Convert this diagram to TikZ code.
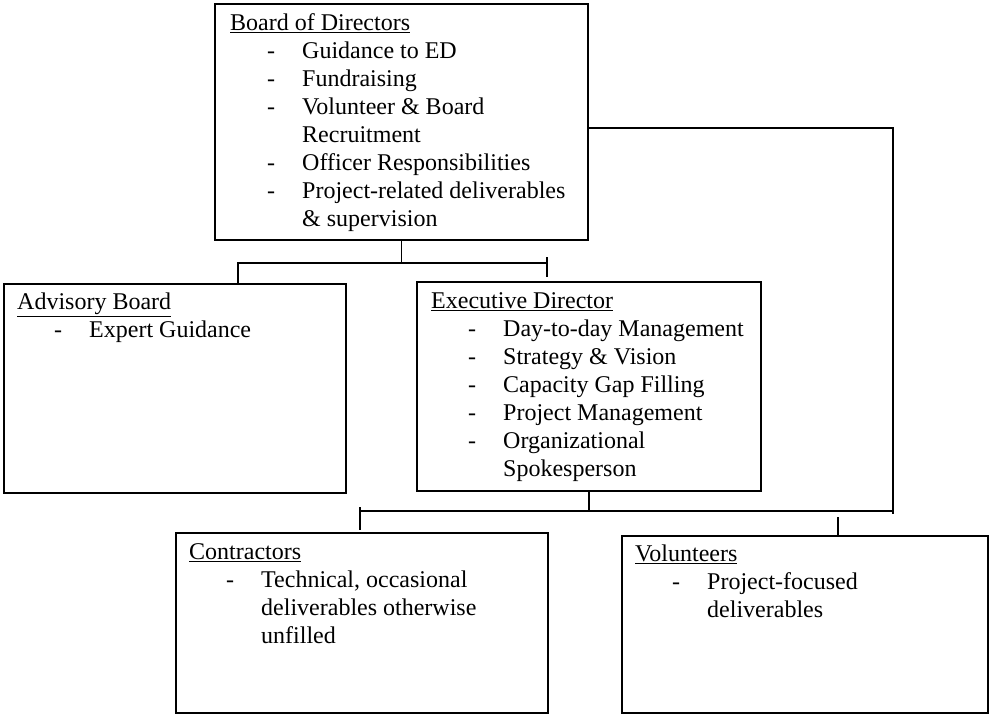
\documentclass[tikz,border=0pt]{standalone}
\usepackage{fontspec}
\setmainfont{Liberation Serif}
\usepackage{tikz}

\newcommand{\dashitem}[1]{\hspace*{37pt}\makebox[35pt][l]{-}#1}
\newcommand{\moreline}[1]{\hspace*{72pt}#1}

\tikzset{
	box/.style={draw, line width=1.6pt, anchor=north west, inner sep=0pt},
	txt/.style={anchor=north west, align=left, inner sep=0pt, font=\fontsize{24}{28}\selectfont},
	conn/.style={line width=1.6pt}
}

\begin{document}
\begin{tikzpicture}[x=1pt, y=-1pt]
				\useasboundingbox (0,0) rectangle (991,715);
				% Boxes
				\node[box, minimum width=373pt, minimum height=236pt] (board) at (214,3) {};
				\node[box, minimum width=342pt, minimum height=209pt] (adv) at (3,283) {};
				\node[box, minimum width=344pt, minimum height=209pt] (ed) at (416,281) {};
				\node[box, minimum width=372pt, minimum height=180pt] (con) at (175,532) {};
				\node[box, minimum width=366pt, minimum height=177pt] (vol) at (621,535) {};
				% Box texts
				\node[txt] (boardtxt) at ([xshift=16pt, yshift=-10pt]board.north west) {\underline{Board of Directors}\\
					\dashitem{Guidance to ED}\\
					\dashitem{Fundraising}\\
					\dashitem{Volunteer \& Board}\\
					\moreline{Recruitment}\\
					\dashitem{Officer Responsibilities}\\
					\dashitem{Project-related deliverables}\\
					\moreline{\& supervision}};
				\node[txt] (advtxt) at ([xshift=14pt, yshift=-10pt]adv.north west) {\underline{Advisory Board}\\
					\dashitem{Expert Guidance}};
				\node[txt] (edtxt) at ([xshift=15pt, yshift=-11pt]ed.north west) {\underline{Executive Director}\\
					\dashitem{Day-to-day Management}\\
					\dashitem{Strategy \& Vision}\\
					\dashitem{Capacity Gap Filling}\\
					\dashitem{Project Management}\\
					\dashitem{Organizational}\\
					\moreline{Spokesperson}};
				\node[txt] (contxt) at ([xshift=14pt, yshift=-11pt]con.north west) {\underline{Contractors}\\
					\dashitem{Technical, occasional}\\
					\moreline{deliverables otherwise}\\
					\moreline{unfilled}};
				\node[txt] (voltxt) at ([xshift=14pt, yshift=-10pt]vol.north west) {\underline{Volunteers}\\
					\dashitem{Project-focused}\\
					\moreline{deliverables}};
				% Upper bus
				\coordinate (busL) at (238,263);
				\coordinate (busR) at (547,263);
				\draw[conn] (board.south) -- (board.south |- busL);
				\draw[conn] (busR) -- (busL) -- (busL |- adv.north);
				\draw[conn] ([yshift=6pt]busR) -- ([yshift=-14pt]busR);
				% Right side line
				\coordinate (rcorner) at (893,128);
				\coordinate (bus2L) at (360,511);
				\coordinate (bus2R) at (893,511);
				\draw[conn] (board.east |- rcorner) -- (rcorner) -- ([yshift=-3pt]bus2R);
				% Lower bus
				\draw[conn] (ed.south) -- (ed.south |- bus2L);
				\draw[conn] (bus2R) -- (bus2L);
				\draw[conn] ([yshift=4pt]bus2L) -- ([yshift=-19pt]bus2L);
				\coordinate (voltick) at (838,517);
				\draw[conn] (voltick) -- (voltick |- vol.north);
			\end{tikzpicture}
\end{document}
